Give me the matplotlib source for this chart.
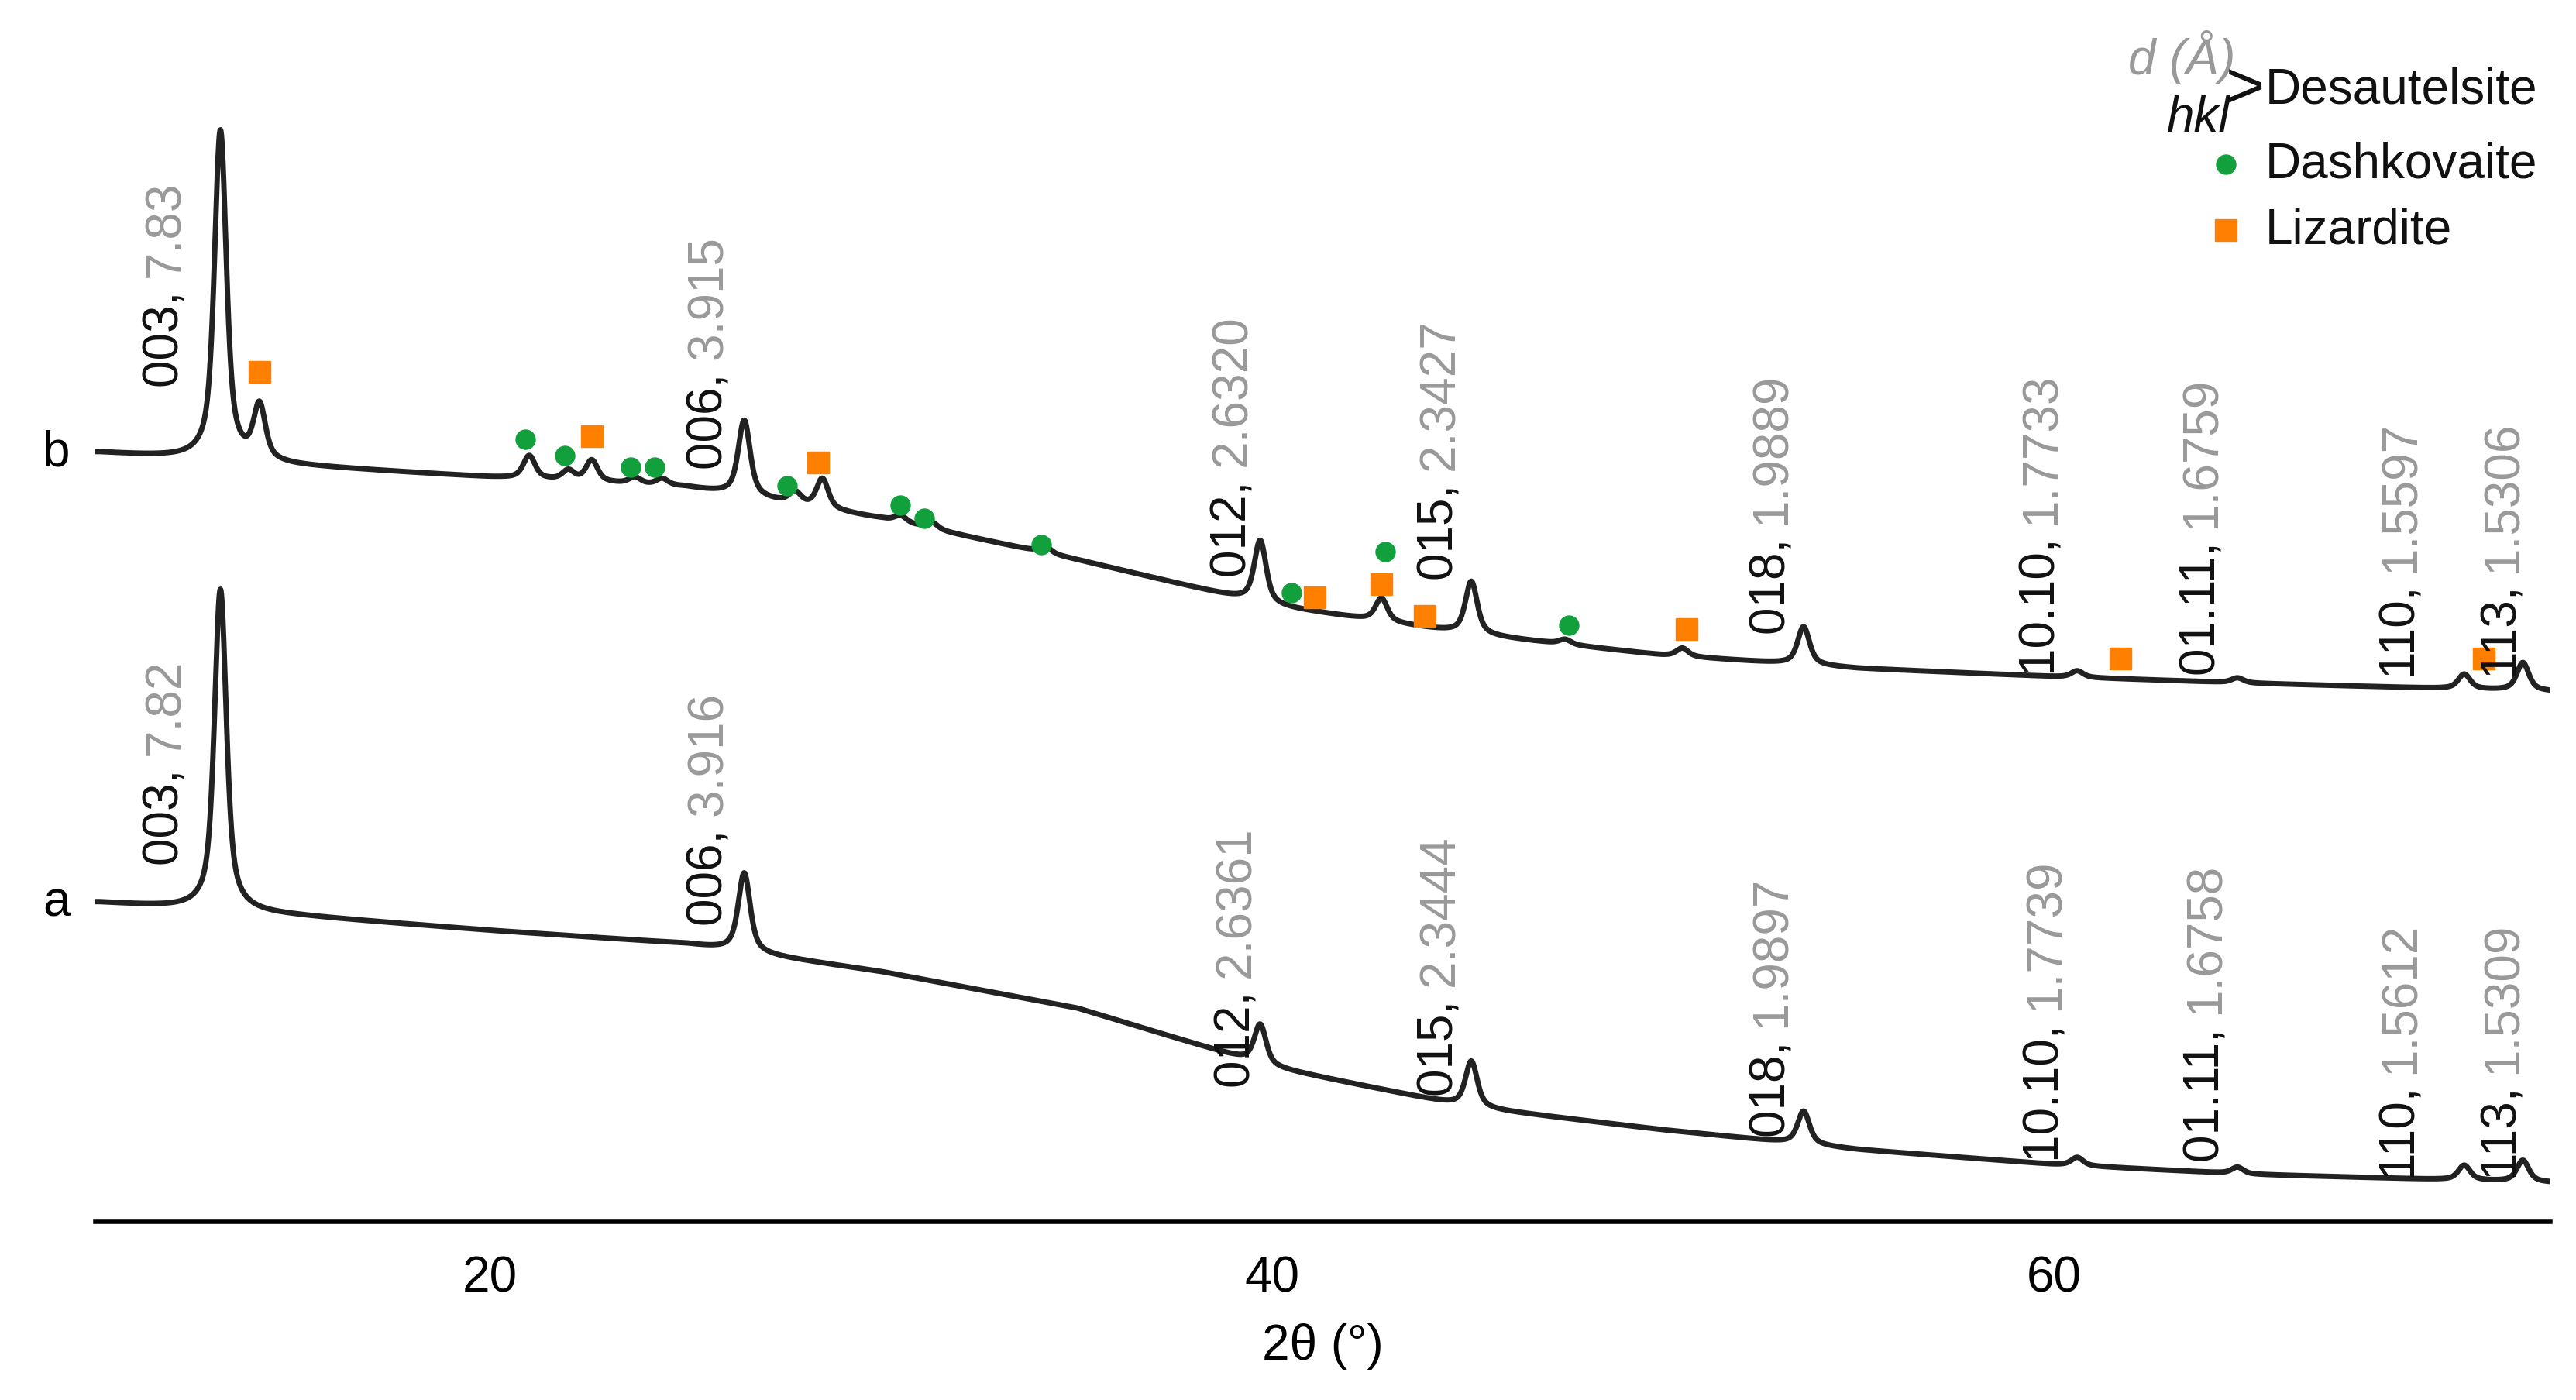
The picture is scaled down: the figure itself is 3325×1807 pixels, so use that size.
import numpy as np
import matplotlib.pyplot as plt

plt.rcParams['font.family'] = ['Liberation Sans', 'DejaVu Sans']

# intensity is in arbitrary units (screen-like, 0 at top, larger is lower)
base_x = [10, 15, 20, 25, 30, 35, 40, 45, 50, 55, 60, 65, 72.7]
base_a = [548, 556, 565, 573, 590, 612, 648, 672, 686, 698, 707, 713, 718]
base_b = [275, 283, 290, 296, 315, 340, 368, 385, 398, 406, 411, 415, 420]

peaks_a = [(13.1, 195), (26.5, 48), (39.7, 24), (45.1, 28), (53.6, 20),
           (60.6, 5), (64.7, 4), (70.5, 9), (72.0, 13)]
peaks_b = [(13.1, 200), (14.1, 33), (21.0, 14), (22.0, 6), (22.6, 13),
           (23.7, 4), (24.4, 4), (26.5, 46), (27.8, 7), (28.5, 18),
           (30.5, 4), (31.3, 4), (34.2, 4), (39.7, 38), (42.8, 14),
           (45.1, 32), (47.5, 3), (50.5, 5), (53.6, 23), (60.6, 4),
           (64.7, 3), (70.5, 9), (72.0, 17)]

dashkovaite = [(20.9, 267), (21.9, 277), (23.6, 284), (24.2, 284), (27.6, 295),
               (30.5, 307), (31.1, 315), (34.1, 331), (40.5, 360), (42.9, 335),
               (47.6, 380)]
lizardite = [(14.1, 226), (22.6, 265), (28.4, 281), (41.1, 363), (42.8, 355),
             (43.9, 374), (50.6, 382), (61.7, 400), (71.0, 400)]

labels_b = [(11.7, 235, '003', '7.83'), (25.6, 285, '006', '3.915'),
            (39.0, 350, '012', '2.6320'), (44.3, 352, '015', '2.3427'),
            (52.8, 385, '018', '1.9889'), (59.7, 410, '10.10', '1.7733'),
            (63.8, 410, '01.11', '1.6759'), (68.9, 412, '110', '1.5597'),
            (71.5, 412, '113', '1.5306')]
labels_a = [(11.7, 525, '003', '7.82'), (25.6, 562, '006', '3.916'),
            (39.1, 660, '012', '2.6361'), (44.3, 665, '015', '2.3444'),
            (52.8, 690, '018', '1.9897'), (59.8, 705, '10.10', '1.7739'),
            (63.9, 705, '01.11', '1.6758'), (68.9, 716, '110', '1.5612'),
            (71.5, 716, '113', '1.5309')]

x = np.linspace(9.9, 72.7, 6000)


def pattern(base, peaks):
    y = np.interp(x, base_x, base)
    for c, h in peaks:
        w = 0.2
        y = y - h * (0.6 / (1 + ((x - c) / w) ** 2) + 0.4 * np.exp(-((x - c) / w) ** 2))
    return y


fig = plt.figure(figsize=(33.25, 18.08), dpi=100)
ax = fig.add_axes([0.037, 0.127, 0.953, 0.873])
ax.plot(x, pattern(base_a, peaks_a), color='#222222', lw=5)
ax.plot(x, pattern(base_b, peaks_b), color='#222222', lw=5)
ax.set_xlim(9.9, 72.7)
ax.set_ylim(742, 0)
for s in ['left', 'right', 'top']:
    ax.spines[s].set_visible(False)
ax.spines['bottom'].set_linewidth(4)
ax.set_yticks([])
ax.set_xticks([20, 40, 60])
ax.tick_params(axis='x', labelsize=46, length=0, pad=30)
ax.set_xlabel('2θ (°)', fontsize=46, labelpad=20)

ax.plot([p[0] for p in dashkovaite], [p[1] for p in dashkovaite], 'o',
        color='#11a03c', ms=18, clip_on=False)
ax.plot([p[0] for p in lizardite], [p[1] for p in lizardite], 's',
        color='#ff8000', ms=20, clip_on=False)

ax.text(8.9, 275, 'b', fontsize=46, ha='center', va='center', clip_on=False)
ax.text(8.9, 548, 'a', fontsize=46, ha='center', va='center', clip_on=False)

fig.canvas.draw()
r = fig.canvas.get_renderer()
inv = ax.transData.inverted()
for lx, ly, hkl, d in labels_a + labels_b:
    t = ax.text(lx, ly, hkl + ', ', rotation=90, fontsize=46, ha='center',
                va='bottom', color='#111111')
    bb = t.get_window_extent(r)
    top = inv.transform((bb.x0, bb.y1))[1]
    ax.text(lx, top, d, rotation=90, fontsize=46, ha='center', va='bottom',
            color='#999999')

# legend
ax.text(61.9, 35, 'd (Å)', fontsize=46, style='italic', color='#999999', va='center')
ax.text(62.9, 72, 'hkl', fontsize=46, style='italic', color='#111111', va='center')
ax.text(64.9, 55, '>', fontsize=62, color='#111111', va='center', ha='center')
ax.text(65.4, 55, 'Desautelsite', fontsize=46, color='#111111', va='center')
ax.plot([64.4], [100], 'o', color='#11a03c', ms=18)
ax.text(65.4, 100, 'Dashkovaite', fontsize=46, color='#111111', va='center')
ax.plot([64.4], [140], 's', color='#ff8000', ms=20)
ax.text(65.4, 140, 'Lizardite', fontsize=46, color='#111111', va='center')

fig.savefig('out.png')
